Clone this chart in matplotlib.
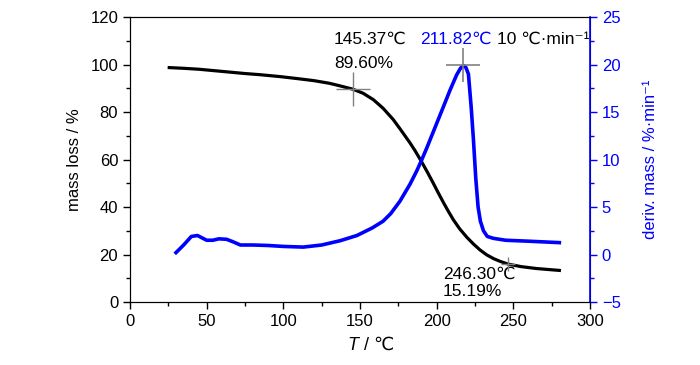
import matplotlib
matplotlib.use("Agg")
import matplotlib.pyplot as plt
from matplotlib.ticker import MultipleLocator

plt.rcParams["font.family"] = ["Liberation Sans", "DejaVu Sans"]

BLUE = "#0000ff"

# TG curve (mass loss, %)
tg_temp = [25.6, 35, 45, 55, 65, 75, 85, 98, 110, 120, 130, 137, 145.37, 152,
           158.7, 165, 171.7, 176, 182.6, 186, 190.2, 194, 197.8, 201, 204.3,
           207.5, 210.9, 215, 219.6, 224, 228.3, 232.5, 237, 241, 246.3, 255,
           265, 280]
tg_mass = [98.7, 98.4, 98.0, 97.4, 96.8, 96.2, 95.7, 94.9, 94.0, 93.2, 92.1,
           91.0, 89.6, 87.9, 85.2, 81.6, 76.8, 73.0, 67.0, 63.6, 59.0, 54.6,
           50.0, 46.0, 42.0, 38.3, 34.6, 30.8, 27.3, 24.4, 21.9, 19.9, 18.3,
           17.2, 16.0, 14.9, 14.1, 13.3]

# DTG curve (deriv. mass, %/min)
dtg_temp = [30, 35, 40, 44, 47, 50, 54, 58, 63, 67, 72, 80, 90, 100, 113, 125,
            137, 148, 158, 165, 170, 176, 182.6, 187, 190.2, 193.5, 197, 200,
            204, 208.7, 213, 215.5, 217.4, 219, 220.7, 222.5, 224, 225.5, 227,
            228.5, 230.5, 233, 237, 245, 260, 280]
dtg_val = [0.2, 1.0, 1.9, 2.0, 1.75, 1.5, 1.5, 1.65, 1.6, 1.35, 1.0, 1.0, 0.95,
           0.85, 0.78, 1.0, 1.45, 2.0, 2.8, 3.5, 4.3, 5.6, 7.4, 8.8, 9.95, 11.2,
           12.6, 13.8, 15.4, 17.3, 18.9, 19.6, 19.9, 19.7, 19.0, 15.5, 12.0,
           8.0, 5.0, 3.5, 2.5, 1.9, 1.7, 1.5, 1.4, 1.25]

fig = plt.figure(figsize=(7.0, 3.65), dpi=100)
ax = fig.add_axes([0.1857, 0.1726, 0.6572, 0.7808])
ax2 = ax.twinx()

ax.plot(tg_temp, tg_mass, color="black", lw=2.3, zorder=3, solid_joinstyle="round")
ax2.plot(dtg_temp, dtg_val, color=BLUE, lw=2.6, zorder=3, solid_joinstyle="round")

# crosshair markers
ax.plot([145.37], [89.6], marker="+", ms=24, mew=1, color="gray", zorder=4)
ax.plot([246.3], [16.0], marker="+", ms=10, mew=1, color="gray", zorder=4)
ax2.plot([217.4], [19.9], marker="+", ms=24, mew=1.2, color="gray", zorder=4)

ax.set_xlim(0, 300)
ax.set_ylim(0, 120)
ax2.set_ylim(-5, 25)

ax.xaxis.set_major_locator(MultipleLocator(50))
ax.xaxis.set_minor_locator(MultipleLocator(25))
ax.yaxis.set_major_locator(MultipleLocator(20))
ax.yaxis.set_minor_locator(MultipleLocator(10))
ax2.yaxis.set_major_locator(MultipleLocator(5))
ax2.yaxis.set_minor_locator(MultipleLocator(2.5))

for a in (ax, ax2):
    a.tick_params(which="major", direction="out", length=5, width=1, labelsize=12)
    a.tick_params(which="minor", direction="out", length=3, width=1)
ax2.tick_params(which="both", colors=BLUE)
ax2.spines["right"].set_color(BLUE)
ax2.spines["right"].set_linewidth(1.2)

# x label: italic T followed by unit
ax.text(0.497, -0.152, "T", style="italic", fontsize=13, ha="right", va="center",
        transform=ax.transAxes)
ax.text(0.497, -0.152, " / ℃", fontsize=13, ha="left", va="center",
        transform=ax.transAxes)
ax.set_ylabel("mass loss / %", fontsize=12, labelpad=6)
ax2.set_ylabel("deriv. mass / %·min⁻¹", fontsize=12, color=BLUE, labelpad=16)

ax.text(133, 110.5, "145.37℃", fontsize=12.5, ha="left", va="center")
ax.text(133, 100.5, "89.60%", fontsize=12.5, ha="left", va="center")
ax.text(189, 110.5, "211.82℃", fontsize=12.5, ha="left", va="center", color=BLUE)
ax.text(239.5, 110.5, "10 ℃·min⁻¹", fontsize=12.5, ha="left", va="center")
ax.text(204, 11.5, "246.30℃", fontsize=12.5, ha="left", va="center")
ax.text(204, 4.5, "15.19%", fontsize=12.5, ha="left", va="center")

fig.savefig("out.png", dpi=100)
